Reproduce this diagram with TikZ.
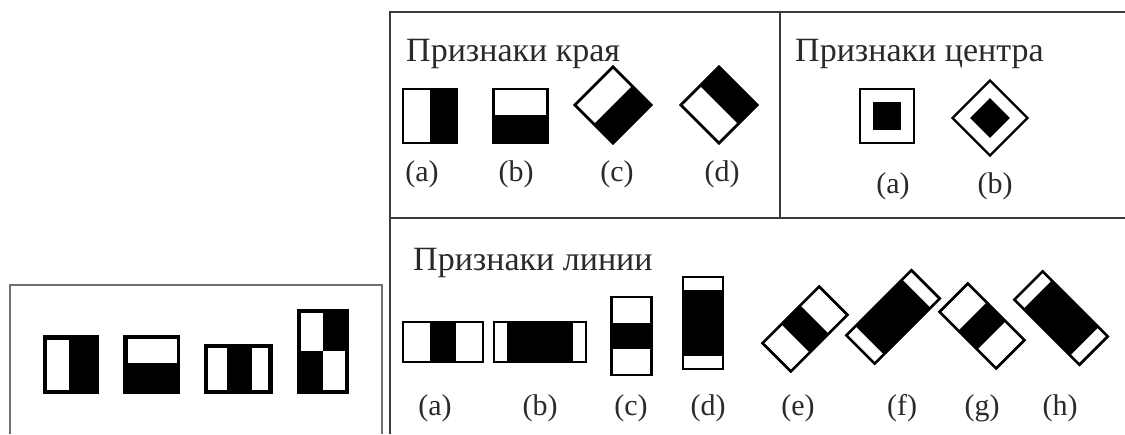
\documentclass[tikz,border=0pt]{standalone}
\usepackage{fontspec}
\setmainfont{Liberation Serif}
\definecolor{frameline}{HTML}{3A3A3A}
\definecolor{paleframe}{HTML}{707070}
\definecolor{inktext}{HTML}{2A2A2A}
\tikzset{
  panelline/.style={draw=frameline, line width=2pt},
  outerline/.style={draw=paleframe, line width=2.5pt},
  featbox/.style={draw=black, line width=2.4pt, fill=white},
  ink/.style={fill=black},
  paper/.style={fill=white},
  heading/.style={anchor=base west, text=inktext, inner sep=0pt, font=\fontsize{34}{34}\selectfont},
  tag/.style={text=inktext, inner sep=0pt, font=\fontsize{30}{30}\selectfont},
}
\begin{document}
\begin{tikzpicture}[x=1pt, y=-1pt]
\useasboundingbox (0,0) rectangle (1125,434);
\fill[white] (0,0) rectangle (1125,434);

% ---------- small frame on the left: the four basic Haar masks ----------
\draw[outerline] (10,434) -- (10,285) -- (382,285) -- (382,434);
\fill[ink] (43,335) rectangle (99,394);
\fill[paper] (47,340) rectangle (69,390);
\fill[ink] (123,335) rectangle (180,394);
\fill[paper] (128,339) rectangle (177,363);
\fill[ink] (204,344) rectangle (273,394);
\fill[paper] (208,348) rectangle (227,390);
\fill[paper] (252,348) rectangle (268,390);
\fill[ink] (297,309) rectangle (349,394);
\fill[paper] (301,313) rectangle (323,351);
\fill[paper] (323,351) rectangle (345,390);

% ---------- large frame with three panels ----------
\draw[panelline] (1125,12) -- (390,12) -- (390,434);
\draw[panelline] (390,218) -- (1125,218);
\draw[panelline] (780,12) -- (780,218);

% ---------- edge features ----------
\node[heading] (edgetitle) at (406,61) {Признаки края};
\begin{scope}[shift={(430,116)}]
  \draw[featbox] (-27,-27) rectangle (27,27);
  \fill[ink] (0,-27) rectangle (27,27);
  \draw[featbox, fill=none] (-27,-27) rectangle (27,27);
\end{scope}
\begin{scope}[shift={(520.5,116)}]
  \draw[featbox] (-27,-27) rectangle (27,27);
  \fill[ink] (-27,-1) rectangle (27,27);
  \draw[featbox, fill=none] (-27,-27) rectangle (27,27);
\end{scope}
\begin{scope}[shift={(613,105)}, rotate=-45]
  \draw[featbox] (-27,-27) rectangle (27,27);
  \fill[ink] (0,-27) rectangle (27,27);
  \draw[featbox, fill=none] (-27,-27) rectangle (27,27);
\end{scope}
\begin{scope}[shift={(719,105)}, rotate=45]
  \draw[featbox] (-27,-27) rectangle (27,27);
  \fill[ink] (0,-27) rectangle (27,27);
  \draw[featbox, fill=none] (-27,-27) rectangle (27,27);
\end{scope}
\node[tag] (ea) at (422,174) {(a)};
\node[tag] (eb) at (516,174) {(b)};
\node[tag] (ec) at (617,174) {(c)};
\node[tag] (ed) at (722,174) {(d)};

% ---------- centre features ----------
\node[heading] (centretitle) at (795,61) {Признаки центра};
\begin{scope}[shift={(887,116)}]
  \draw[featbox] (-27,-27) rectangle (27,27);
  \fill[ink] (-14,-14) rectangle (14,14);
\end{scope}
\begin{scope}[shift={(990,118)}, rotate=45]
  \draw[featbox] (-26.5,-26.5) rectangle (26.5,26.5);
  \fill[ink] (-14,-14) rectangle (14,14);
\end{scope}
\node[tag] (ca) at (893,186) {(a)};
\node[tag] (cb) at (995,186) {(b)};

% ---------- line features ----------
\node[heading] (linetitle) at (413,270) {Признаки линии};
\begin{scope}[shift={(443,342)}]
  \draw[featbox] (-40,-20) rectangle (40,20);
  \fill[ink] (-13.3,-20) rectangle (13.3,20);
  \draw[featbox, fill=none] (-40,-20) rectangle (40,20);
\end{scope}
\begin{scope}[shift={(540,342)}]
  \draw[featbox] (-46,-20) rectangle (46,20);
  \fill[ink] (-33,-20) rectangle (33,20);
  \draw[featbox, fill=none] (-46,-20) rectangle (46,20);
\end{scope}
\begin{scope}[shift={(631.5,336)}]
  \draw[featbox] (-20,-39) rectangle (20,39);
  \fill[ink] (-20,-13) rectangle (20,13);
  \draw[featbox, fill=none] (-20,-39) rectangle (20,39);
\end{scope}
\begin{scope}[shift={(703,323)}]
  \draw[featbox] (-20,-46) rectangle (20,46);
  \fill[ink] (-20,-33) rectangle (20,33);
  \draw[featbox, fill=none] (-20,-46) rectangle (20,46);
\end{scope}
\begin{scope}[shift={(805,329)}, rotate=45]
  \draw[featbox] (-40,-20) rectangle (40,20);
  \fill[ink] (-13.3,-20) rectangle (13.3,20);
  \draw[featbox, fill=none] (-40,-20) rectangle (40,20);
\end{scope}
\begin{scope}[shift={(893,317)}, rotate=45]
  \draw[featbox] (-46,-20) rectangle (46,20);
  \fill[ink] (-33,-20) rectangle (33,20);
  \draw[featbox, fill=none] (-46,-20) rectangle (46,20);
\end{scope}
\begin{scope}[shift={(982,326)}, rotate=-45]
  \draw[featbox] (-40,-20) rectangle (40,20);
  \fill[ink] (-13.3,-20) rectangle (13.3,20);
  \draw[featbox, fill=none] (-40,-20) rectangle (40,20);
\end{scope}
\begin{scope}[shift={(1061,318)}, rotate=-45]
  \draw[featbox] (-46,-20) rectangle (46,20);
  \fill[ink] (-33,-20) rectangle (33,20);
  \draw[featbox, fill=none] (-46,-20) rectangle (46,20);
\end{scope}
\node[tag] (la) at (435,408) {(a)};
\node[tag] (lb) at (540,408) {(b)};
\node[tag] (lc) at (631,408) {(c)};
\node[tag] (ld) at (708,408) {(d)};
\node[tag] (le) at (798,408) {(e)};
\node[tag] (lf) at (902,408) {(f)};
\node[tag] (lg) at (982,408) {(g)};
\node[tag] (lh) at (1060,408) {(h)};
\end{tikzpicture}
\end{document}
